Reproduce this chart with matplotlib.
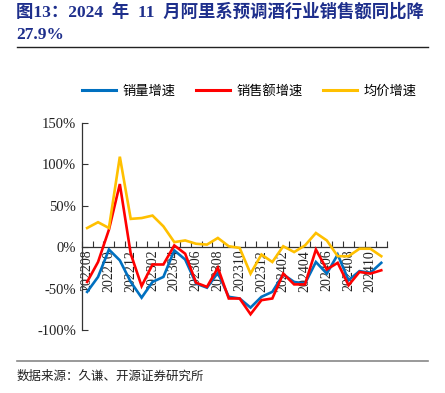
import numpy as np
import matplotlib
matplotlib.use("Agg")
import matplotlib.pyplot as plt
from matplotlib.lines import Line2D

# Fonts: serif for numbers, CJK fallback for Chinese
plt.rcParams['font.family'] = ['Liberation Serif', 'Noto Sans CJK SC', 'DejaVu Sans']
plt.rcParams['axes.unicode_minus'] = False

# Data (in %)
months = ['202208', '202209', '202210', '202211', '202212', '202301', '202302',
          '202303', '202304', '202305', '202306', '202307', '202308', '202309',
          '202310', '202311', '202312', '202401', '202402', '202403', '202404',
          '202405', '202406', '202407', '202408', '202409', '202410', '202411']
volume_growth = [-54, -36, -3, -16, -42, -61, -42, -36, -4, -15, -44, -49, -31, -60,
                 -62, -73, -60, -54, -33, -42, -44, -18, -32, -9, -40, -29, -31, -19]
sales_growth = [-42, -18, 21, 76, -8, -47, -21, -21, 2, -8, -43, -48, -25, -62,
                -62, -81, -64, -62, -32, -45, -45, -3, -27, -19, -46, -30, -32, -28]
price_growth = [23, 30, 23, 109, 34, 35, 38, 25, 6, 8, 4, 3, 11, 1,
                -1, -32, -9, -18, 1, -6, 2, 17, 8, -11, -11, -2, -2, -11]

series_names = ['销量增速', '销售额增速', '均价增速']
series_colors = ['#0070C0', '#FF0000', '#FFC000']

fig = plt.figure(figsize=(4.45, 3.93), dpi=100)
ax = fig.add_axes([0.1836, 0.1603, 0.6854, 0.5275])

x = np.arange(len(months))
for vals, name, col in zip([volume_growth, sales_growth, price_growth], series_names, series_colors):
    ax.plot(x, vals, color=col, lw=1.9, label=name, zorder=3, solid_joinstyle='miter')

ax.set_xlim(-0.5, len(months) - 0.5)
ax.set_ylim(-100, 150)
ax.set_yticks([-100, -50, 0, 50, 100, 150])
ax.set_yticklabels([f'{v}%' for v in [-100, -50, 0, 50, 100, 150]], fontsize=10.5)

# x axis sits on the zero line
ax.spines['top'].set_visible(False)
ax.spines['right'].set_visible(False)
ax.spines['bottom'].set_position(('data', 0))
for sp in ['left', 'bottom']:
    ax.spines[sp].set_color('#333333')
    ax.spines[sp].set_linewidth(0.9)

ax.tick_params(axis='y', direction='in', length=4, width=0.8, colors='#333333',
               labelcolor='#222222', pad=4)
ax.set_xticks(x[::2])
ax.set_xticklabels(months[::2], rotation=90, fontsize=10, color='#222222')
ax.tick_params(axis='x', which='major', length=0, pad=2)
ax.set_xticks(np.arange(-0.5, len(months), 1), minor=True)
ax.tick_params(axis='x', which='minor', direction='in', length=4, width=0.8, colors='#333333')

# Legend
handles = [Line2D([0], [0], color=c, lw=2.2) for c in series_colors]
fig.legend(handles, series_names, loc='center', bbox_to_anchor=(0.56, 0.767), ncol=3,
           frameon=False, fontsize=9.5, handlelength=2.6, handletextpad=0.5,
           columnspacing=1.5)

# Title
title_color = '#1E2F8C'
fig.text(0.036, 0.970, '图13：2024  年  11  月阿里系预调酒行业销售额同比降',
         fontsize=12.5, fontweight='bold', color=title_color, va='center', ha='left')
fig.text(0.036, 0.911, '27.9%', fontsize=12.5, fontweight='bold', color=title_color,
         va='center', ha='left')

# Rules and source
fig.add_artist(Line2D([0.038, 0.961], [0.881, 0.881], color='#222222', lw=1.0))
fig.add_artist(Line2D([0.038, 0.961], [0.081, 0.081], color='#888888', lw=1.2))
fig.text(0.038, 0.041, '数据来源：久谦、开源证券研究所', fontsize=9, color='#222222',
         va='center', ha='left')

fig.savefig('out.png', dpi=100)
